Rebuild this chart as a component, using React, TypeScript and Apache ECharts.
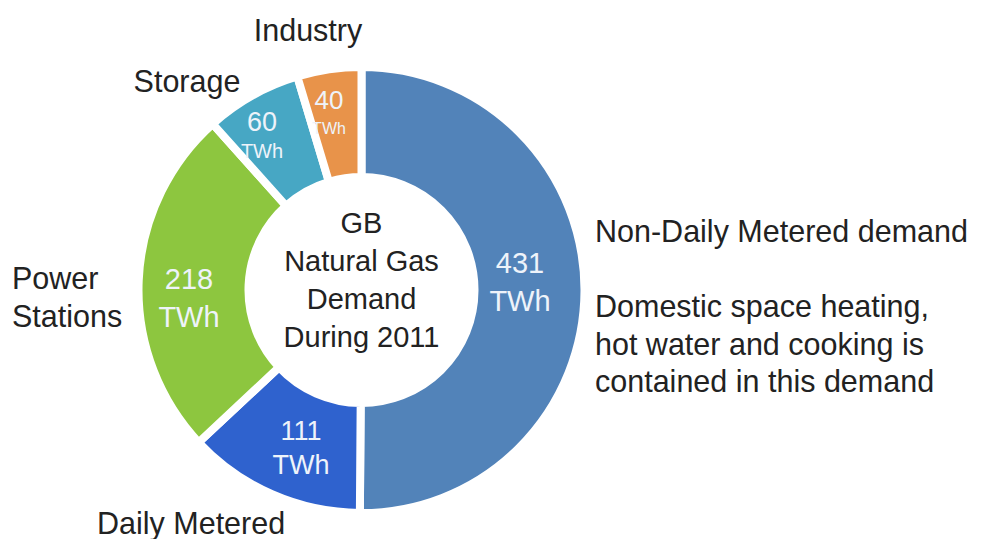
import React, { useEffect, useRef } from 'react';
import * as echarts from 'echarts';

// ---- Data ----
const categories = ['Non-Daily Metered demand', 'Daily Metered', 'Power Stations', 'Storage', 'Industry'];
const values = [431, 111, 218, 60, 40];
const unit = 'TWh';
const outerLabelText = ['Non-Daily Metered demand', 'Daily Metered', 'Power\nStations', 'Storage', 'Industry'];
const noteLines = ['Domestic space heating,', 'hot water and cooking is', 'contained in this demand'];
const centerTitleLines = ['GB', 'Natural Gas', 'Demand', 'During 2011'];

// ---- Styles ----
const colors = ['#5283B9', '#2F62CE', '#8DC63F', '#47A7C4', '#E8934A'];
const FONT = '"Liberation Sans", Arial, sans-serif';
const TEXT_DARK = '#222222';
const TEXT_LIGHT = '#EEF3FA';
// inside label: [numberSize, unitSize, lineHeight]
const insideFont = [
  [29, 29, 37.5],
  [27, 27, 34],
  [29, 29, 38],
  [27, 20, 29],
  [26, 16, 29],
];
const insidePos = [
  [520, 282],
  [301, 448],
  [189, 298],
  [262, 136],
  [329, 114],
];
const outerPos: [number, number, string][] = [
  [595, 306, 'left'],
  [97, 523, 'left'],
  [12, 297, 'left'],
  [187, 81, 'center'],
  [308, 30, 'center'],
];

export default function App() {
  const ref = useRef<HTMLDivElement>(null);
  useEffect(() => {
    const chart = echarts.init(ref.current!, null, { renderer: 'svg' });

    const innerData = categories.map((name, i) => ({
      name,
      value: values[i],
      itemStyle: { color: colors[i] },
      label: {
        formatter: `{n|${values[i]}}\n{u|${unit}}`,
        rich: {
          n: { fontSize: insideFont[i][0], lineHeight: insideFont[i][2], color: TEXT_LIGHT, fontFamily: FONT, align: 'center' },
          u: { fontSize: insideFont[i][1], lineHeight: insideFont[i][2], color: TEXT_LIGHT, fontFamily: FONT, align: 'center' },
        },
      },
    }));

    const outerData = categories.map((name, i) => ({
      name,
      value: values[i],
      label: {
        formatter: i === 0 ? `${outerLabelText[i]}\n\n${noteLines.join('\n')}` : outerLabelText[i],
      },
    }));

    const option: any = {
      animation: false,
      backgroundColor: '#ffffff',
      graphic: [
        {
          type: 'text',
          x: 361.5,
          y: 280,
          style: {
            text: centerTitleLines.join('\n'),
            fontSize: 29,
            fontFamily: FONT,
            lineHeight: 37.7,
            fill: TEXT_DARK,
            align: 'center',
            verticalAlign: 'middle',
          },
        },
      ],
      series: [
        {
          type: 'pie',
          silent: true,
          center: [361.5, 290],
          radius: [113, 223],
          startAngle: 90,
          clockwise: true,
          avoidLabelOverlap: false,
          itemStyle: { borderColor: '#ffffff', borderWidth: 8 },
          label: { show: true, position: 'inside' },
          labelLine: { show: false },
          labelLayout: (p: any) => ({
            x: insidePos[p.dataIndex][0],
            y: insidePos[p.dataIndex][1],
            align: 'center',
            verticalAlign: 'middle',
          }),
          data: innerData,
        },
        {
          type: 'pie',
          silent: true,
          center: [361.5, 290],
          radius: [113, 223],
          startAngle: 90,
          clockwise: true,
          avoidLabelOverlap: false,
          itemStyle: { color: 'rgba(0,0,0,0)', borderWidth: 0 },
          label: {
            show: true,
            position: 'outside',
            fontSize: 30.5,
            lineHeight: 37.5,
            fontFamily: FONT,
            color: TEXT_DARK,
          },
          labelLine: { show: false },
          labelLayout: (p: any) => ({
            x: outerPos[p.dataIndex][0],
            y: outerPos[p.dataIndex][1],
            align: outerPos[p.dataIndex][2],
            verticalAlign: 'middle',
          }),
          data: outerData,
        },
      ],
    };

    chart.setOption(option);
    return () => chart.dispose();
  }, []);

  return (
    <div
      ref={ref}
      style={{ position: 'fixed', left: 0, top: 0, width: 981, height: 539, background: '#fff' }}
    />
  );
}
